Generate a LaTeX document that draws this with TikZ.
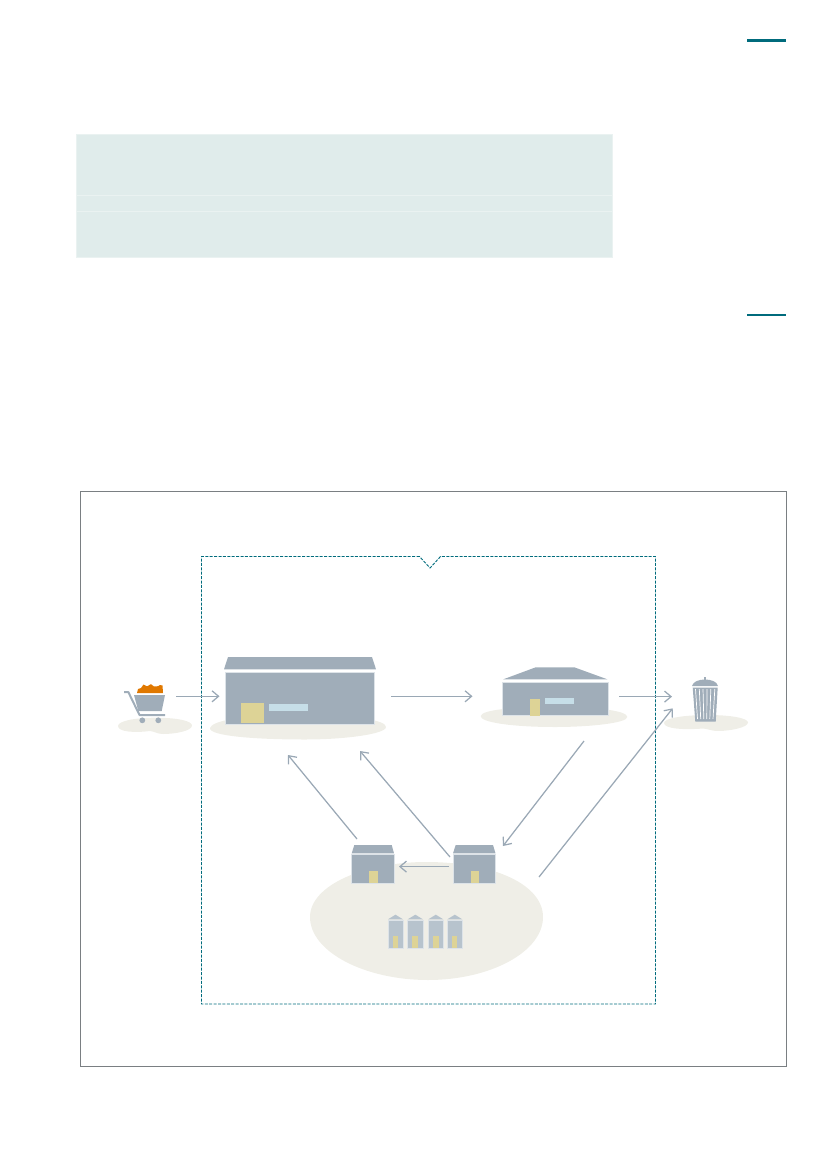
\documentclass[tikz,border=0pt]{standalone}
\usetikzlibrary{arrows.meta}
\definecolor{tealbar}{HTML}{006B7C}
\definecolor{tablebg}{HTML}{E0ECEB}
\definecolor{tableln}{HTML}{EAF2F1}
\definecolor{bldg}{HTML}{A0ADB9}
\definecolor{silo}{HTML}{B7C3CD}
\definecolor{edgeln}{HTML}{DDE3E8}
\definecolor{doorc}{HTML}{DDD396}
\definecolor{winc}{HTML}{C6DEE8}
\definecolor{groundc}{HTML}{EFEEE7}
\definecolor{arrowc}{HTML}{9AA8B5}
\definecolor{orangec}{HTML}{E07800}
\definecolor{framec}{HTML}{7A7F82}
\tikzset{
  ground/.style={fill=groundc,draw=none},
  wall/.style={fill=bldg,draw=edgeln,line width=.7pt},
  roofs/.style={fill=bldg,draw=none},
  doors/.style={fill=doorc,draw=none},
  wins/.style={fill=winc,draw=none},
  flow/.style={draw=arrowc,line width=1.25pt,-{Straight Barb[length=6.5pt,width=11pt,line width=1.25pt]}},
}
\begin{document}
\begin{tikzpicture}[x=1pt,y=-1pt]
\useasboundingbox (0,0) rectangle (827,1169);
% top right rules
\fill[tealbar] (747,39.5) rectangle (786,42.5);
\fill[tealbar] (747,314) rectangle (786,315.5);
% table
\fill[tablebg,draw=tableln,line width=.7pt] (76.5,134) rectangle (612.5,257);
\draw[tableln,line width=.7pt] (76.5,195.5) -- (612.5,195.5) (76.5,211.5) -- (612.5,211.5);
% frames
\draw[framec,line width=.8pt] (80.5,491) rectangle (786,1066);
\draw[tealbar,line width=.9pt,dash pattern=on 3pt off 1.4pt] (419.5,556.5) -- (201.5,556.5) -- (201.5,1004) -- (655.5,1004) -- (655.5,556.5) -- (440.5,556.5) -- (430,568) -- cycle;
% grounds
\fill[ground] (210,728) .. controls (212,721) and (240,715) .. (298,715) .. controls (355,715) and (386,720) .. (386,727) .. controls (386,734) and (345,739.5) .. (305,739.5) .. controls (255,739.5) and (209,736) .. (210,728) -- cycle;
\fill[ground] (480.7,716) .. controls (482,710) and (510,707) .. (555,707) .. controls (600,707) and (627.3,711) .. (627.3,717) .. controls (627.3,723) and (590,727) .. (555,727) .. controls (510,727) and (480,722) .. (480.7,716) -- cycle;
\fill[ground] (118,726) .. controls (118,721) and (135,717.7) .. (155,717.7) .. controls (178,717.7) and (192,721) .. (192,725.5) .. controls (192,731) and (175,734) .. (163,734) .. controls (157,734) and (155,731.5) .. (150,731) .. controls (135,733) and (118,732) .. (118,726) -- cycle;
\fill[ground] (664,723) .. controls (664,718) and (685,715) .. (708,715) .. controls (730,715) and (748,718) .. (748,722.5) .. controls (748,727.5) and (730,731) .. (718,731) .. controls (711,731) and (709,729) .. (703,728.5) .. controls (685,730) and (664,729) .. (664,723) -- cycle;
\fill[ground] (310,917) .. controls (310,885) and (365,862) .. (426,862) .. controls (495,862) and (543,885) .. (543,917) .. controls (543,952) and (490,980) .. (428,980) .. controls (365,980) and (310,952) .. (310,917) -- cycle;
% main building
\fill[roofs] (228,657) -- (372,657) -- (376,669.3) -- (224,669.3) -- cycle;
\draw[wall] (225.7,672) rectangle (374,724);
\fill[doors] (241,703.3) rectangle (264.3,722.7);
\fill[wins] (269,704) rectangle (308,711.3);
\coordinate (mainL) at (219.5,696.3);
\coordinate (mainR) at (391,696.3);
% second building
\fill[roofs] (535.7,667.3) -- (574.3,667.3) -- (607.3,679.3) -- (503.3,679.3) -- cycle;
\draw[wall] (502,682) rectangle (608.7,715.7);
\fill[doors] (530,698.7) rectangle (540.3,715.7);
\fill[wins] (545.3,698) rectangle (573.7,704);
\coordinate (secL) at (472.5,696.3);
\coordinate (secR) at (619,696.6);
\coordinate (secB) at (584,741);
% cart
\coordinate (cartR) at (176,696.3);
\fill[orangec] (137,693) -- (138,689) -- (141,688) -- (143.5,684.5) -- (147,686.3) -- (151,684.2) -- (154,686.5) -- (158,686.2) -- (160,685) -- (162.5,685.5) -- (163,693) -- cycle;
\fill[bldg] (134,695) -- (165,695) -- (161.7,711) -- (138.3,711) -- cycle;
\draw[bldg,line width=2pt,line join=round] (124,692) -- (128.3,692) -- (139.5,715) -- (165,715);
\fill[bldg] (142.3,720.3) circle (2.9) (158.3,720.3) circle (2.9);
% bin
\fill[bldg] (692,686) .. controls (693,681.5) and (699,679.5) .. (705,679.5) .. controls (711,679.5) and (717,681.5) .. (718,686) -- cycle;
\fill[bldg] (704,677) rectangle (706,680);
\fill[bldg] (692.7,687.5) -- (717.7,687.5) -- (715.7,721.7) -- (695.3,721.7) -- cycle;
\draw[white,line width=.7pt] (695.5,689) -- (697.5,719) (699.3,689) -- (700.7,719) (703,689) -- (703.8,719) (707,689) -- (706.8,719) (710.8,689) -- (709.8,719) (714.8,689) -- (713,719);
\coordinate (binA) at (672,696.6);
\coordinate (binB) at (672.7,708.3);
% yard buildings
\fill[roofs] (354.3,845) -- (391.7,845) -- (394,853.3) -- (351.7,853.3) -- cycle;
\draw[wall] (351.7,854.7) rectangle (394.3,883.3);
\fill[doors] (369.3,871.3) rectangle (377.7,883);
\fill[roofs] (455.7,845) -- (493,845) -- (495.5,853.3) -- (453,853.3) -- cycle;
\draw[wall] (453,854.7) rectangle (495.7,883.3);
\fill[doors] (470.7,871.3) rectangle (479,883);
% silos
\foreach \a/\b/\d in {388/403/393,407.7/423/412.3,428.3/443.3/433.3,447.3/462.3/452}{
  \fill[silo] (\a,919.3) -- ({(\a+\b)/2},914.7) -- (\b,919.3) -- cycle;
  \fill[silo,draw=edgeln,line width=.6pt] (\a,919.8) rectangle (\b,948);
  \fill[doors] (\d,936) rectangle (\d+5.4,948);
}
\coordinate (yardAR) at (399,866.6);
\coordinate (yardATop) at (357,839);
\coordinate (yardBL) at (449,866.6);
\coordinate (yardBTop) at (450,857);
\coordinate (yardBIn) at (503,846);
\coordinate (yardOut) at (539,877);
\coordinate (mainB1) at (288,755);
\coordinate (mainB2) at (360,751);
% connectors
\draw[flow] (cartR) -- (mainL);
\draw[flow] (mainR) -- (secL);
\draw[flow] (secR) -- (binA);
\draw[flow] (yardOut) -- (binB);
\draw[flow] (secB) -- (yardBIn);
\draw[flow] (yardBTop) -- (mainB2);
\draw[flow] (yardATop) -- (mainB1);
\draw[flow] (yardBL) -- (yardAR);
\end{tikzpicture}
\end{document}
